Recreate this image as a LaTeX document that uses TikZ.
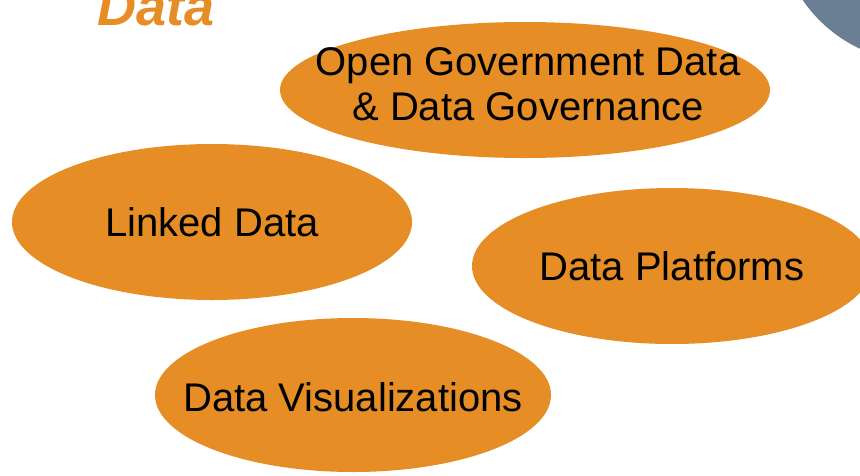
\documentclass[tikz,border=0pt]{standalone}
\usepackage{fontspec}
\setmainfont{Liberation Sans}
\usetikzlibrary{shapes.geometric,positioning}
\definecolor{topicorange}{RGB}{230,142,37}
\definecolor{slategrey}{RGB}{107,127,148}
\tikzset{topic/.style={ellipse,fill=topicorange,inner sep=0pt},
  topictext/.style={font=\fontsize{40}{45}\selectfont,align=center}}

\begin{document}
\begin{tikzpicture}[x=1pt,y=-1pt]
                   \useasboundingbox (0,0) rectangle (860,475);
                   \clip (0,0) rectangle (860,475);
                   \fill[slategrey] (920,-80) circle (142);
                   \node[anchor=base west,text=topicorange,
                     font=\fontsize{54}{54}\selectfont\bfseries\itshape] (title) at (94,25) {Data};
                   \node[topic,minimum width=490pt,minimum height=136pt] (ogd) at (525,90) {};
                   \node[topic,minimum width=400pt,minimum height=156pt] (linked) at (212,222) {};
                   \node[topic,minimum width=400pt,minimum height=156pt] (platforms) at (672,266) {};
                   \node[topic,minimum width=396pt,minimum height=154pt] (visual) at (353,395) {};
                   \node[topictext] (ogdtext) at ([xshift=3pt,yshift=6pt]ogd.center) {Open Government Data\\\& Data Governance};
                   \node[topictext] (linkedtext) at (linked.center) {Linked Data};
                   \node[topictext] (platformstext) at (platforms.center) {Data Platforms};
                   \node[topictext] (visualtext) at ([yshift=-2pt]visual.center) {Data Visualizations};
                \end{tikzpicture}
\end{document}
